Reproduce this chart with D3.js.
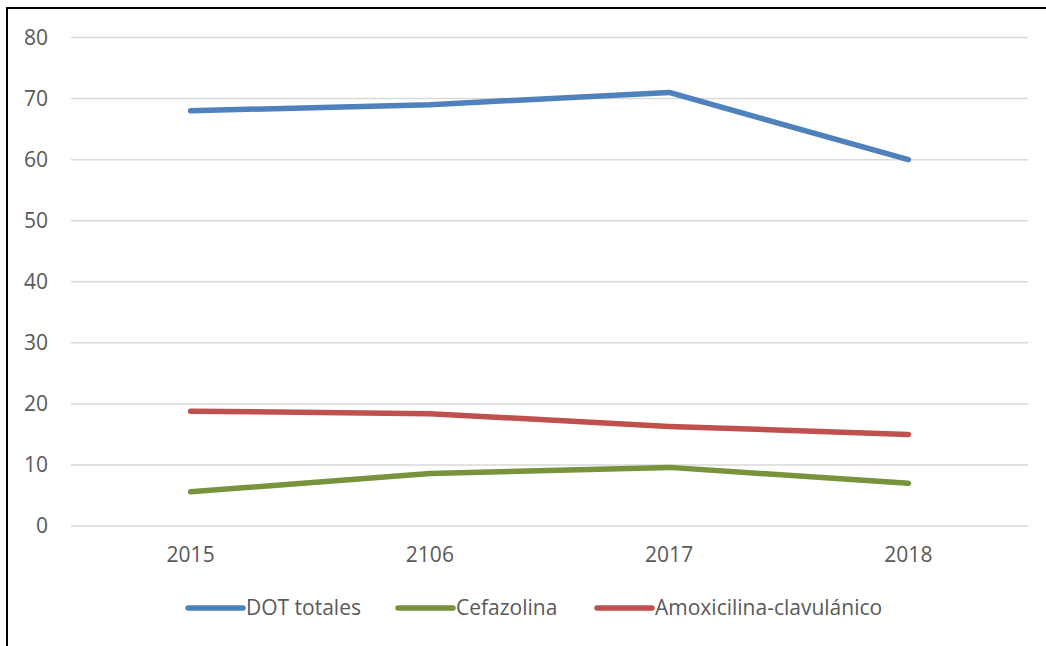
<!DOCTYPE html>
<html>
<head>
<meta charset="utf-8">
<script src="https://cdn.jsdelivr.net/npm/d3@7"></script>
<style>
  html, body { margin: 0; padding: 0; background: #fff; }
  svg { display: block; }
  text { font-family: "Open Sans", "Noto Sans", sans-serif; fill: #595959; }
</style>
</head>
<body>
<svg id="chart" width="1046" height="646"></svg>
<script>
// Years on the horizontal axis (labels kept as printed)
const categories = ["2015", "2106", "2017", "2018"];

// Series values (DOT per year)
const dotTotales = [68, 69, 71, 60];
const cefazolina = [5.6, 8.6, 9.6, 7.0];
const amoxiClav = [18.8, 18.4, 16.3, 15.0];

const yTicks = [0, 10, 20, 30, 40, 50, 60, 70, 80];

const seriesNames = ["DOT totales", "Cefazolina", "Amoxicilina-clavulánico"];
const seriesColors = ["#4F81BD", "#77933C", "#C0504D"];
const series = [dotTotales, cefazolina, amoxiClav].map((values, i) => ({
  name: seriesNames[i], color: seriesColors[i], values
}));

const svg = d3.select("#chart");
const W = 1046, H = 646;
const FONT = 21;

// Chart frame
svg.append("rect")
  .attr("x", 7).attr("y", 8)
  .attr("width", W + 20).attr("height", H + 20)
  .attr("fill", "none").attr("stroke", "#000").attr("stroke-width", 2);

const plot = { left: 71, right: 1028, top: 37.5, bottom: 526 };

const x = d3.scaleBand().domain(categories).range([plot.left, plot.right]);
const y = d3.scaleLinear().domain([0, 80]).range([plot.bottom, plot.top]);

// Horizontal gridlines
svg.append("g").selectAll("line").data(yTicks).join("line")
  .attr("x1", plot.left).attr("x2", plot.right)
  .attr("y1", d => y(d)).attr("y2", d => y(d))
  .attr("stroke", "#d9d9d9").attr("stroke-width", 1.5);

// Y axis labels
const yAxis = d3.axisLeft(y).tickValues(yTicks).tickSize(0).tickPadding(0);
const gy = svg.append("g").attr("transform", "translate(48,0)").call(yAxis);
gy.select(".domain").remove();
gy.selectAll("text").attr("font-size", FONT).style("font-family", "'Open Sans', sans-serif").attr("fill", "#595959");

// X axis labels
const xAxis = d3.axisBottom(x).tickSize(0).tickPadding(0);
const gx = svg.append("g").attr("transform", `translate(0,${plot.bottom + 21})`).call(xAxis);
gx.select(".domain").remove();
gx.selectAll("text").attr("font-size", FONT).style("font-family", "'Open Sans', sans-serif").attr("fill", "#595959");

// Series lines
const line = d3.line()
  .x((d, i) => x(categories[i]) + x.bandwidth() / 2)
  .y(d => y(d));

svg.append("g").selectAll("path").data(series).join("path")
  .attr("d", d => line(d.values))
  .attr("fill", "none")
  .attr("stroke", d => d.color)
  .attr("stroke-width", 5.5)
  .attr("stroke-linecap", "round")
  .attr("stroke-linejoin", "round");

// Legend
const legendY = 608;
const legendX = [188, 398, 597];
const lg = svg.append("g").selectAll("g").data(series).join("g")
  .attr("transform", (d, i) => `translate(${legendX[i]},${legendY})`);
lg.append("line")
  .attr("x1", 0).attr("x2", 55).attr("y1", 0).attr("y2", 0)
  .attr("stroke", d => d.color).attr("stroke-width", 5.5).attr("stroke-linecap", "round");
lg.append("text")
  .attr("x", 58).attr("y", 0).attr("dy", "0.35em")
  .attr("font-size", FONT)
  .text(d => d.name);
</script>
</body>
</html>
